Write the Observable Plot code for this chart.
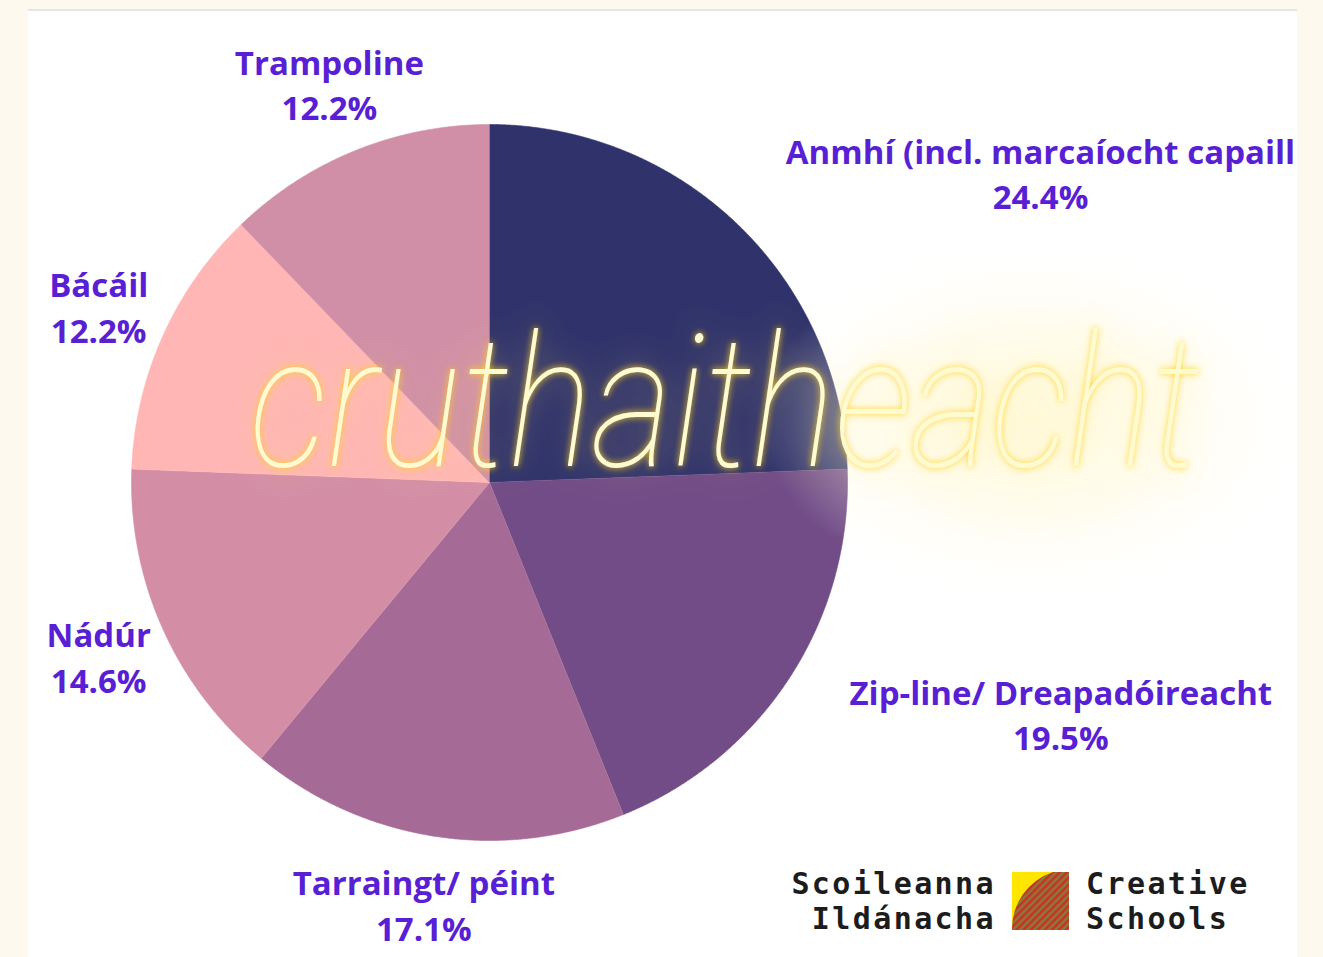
<!DOCTYPE html>
<html>
<head>
<meta charset="utf-8">
<script src="https://cdn.jsdelivr.net/npm/d3@7"></script>
<script src="https://cdn.jsdelivr.net/npm/@observablehq/plot@0.6"></script>
<style>
  html, body { margin: 0; padding: 0; background: #fdf9ee; width: 1323px; height: 957px; overflow: hidden; }
  #panel { position: absolute; left: 28px; top: 9px; width: 1269px; height: 948px; background: #fff; border-top: 2px solid #e4e4e4; }
  #chart { position: absolute; left: 0; top: 0; }
  #chart svg { background: transparent !important; overflow: visible; }
  .logo { position: absolute; font-family: "DejaVu Sans Mono", monospace; font-weight: bold; font-size: 30px; line-height: 30px; height: 30px; color: #1c1c1c; letter-spacing: 2.4px; white-space: nowrap; }
  #overlay { position: absolute; left: 0; top: 0; pointer-events: none; }
</style>
</head>
<body>
<div id="panel"></div>
<div id="chart"></div>
<svg id="overlay" width="1323" height="957"></svg>
<div class="logo" style="left:744px; top:869px; width:252px; text-align:right;">Scoileanna</div>
<div class="logo" style="left:744px; top:904px; width:252px; text-align:right;">Ildánacha</div>
<div class="logo" style="left:1086px; top:869px;">Creative</div>
<div class="logo" style="left:1086px; top:904px;">Schools</div>
<script>
// ---- data ----
const categories = ["Anmhí (incl. marcaíocht capaill", "Zip-line/ Dreapadóireacht", "Tarraingt/ péint", "Nádúr", "Bácáil", "Trampoline"];
const values = [24.4, 19.5, 17.1, 14.6, 12.2, 12.2];
const sliceColors = ["#30336b", "#714c87", "#a56b96", "#d38ea6", "#ffb6b5", "#d08fa6"];
const watermark = "cruthaitheacht";

// ---- layout (pie angles from values) ----
const rows = categories.map((name, i) => ({name, value: values[i], color: sliceColors[i]}));
const arcs = d3.pie().sort(null).value(d => d.value)(rows);

const wedgePoints = [];
for (const a of arcs) {
  const n = Math.max(2, Math.ceil((a.endAngle - a.startAngle) / (Math.PI / 720)));
  wedgePoints.push({name: a.data.name, color: a.data.color, x: 0, y: 0});
  for (let k = 0; k <= n; k++) {
    const t = a.startAngle + (a.endAngle - a.startAngle) * k / n;
    wedgePoints.push({name: a.data.name, color: a.data.color, x: Math.sin(t), y: Math.cos(t)});
  }
}

const labels = arcs.map(a => {
  const m = (a.startAngle + a.endAngle) / 2;
  return {name: a.data.name, text: `${a.data.name}\n${a.data.value.toFixed(1)}%`, x: 1.196 * Math.sin(m), y: 1.196 * Math.cos(m)};
});

const textStyle = {
  text: "text", fill: "#581fd5", fontFamily: "'Open Sans', sans-serif", fontWeight: "bold",
  fontSize: 33, lineHeight: 1.37, textAnchor: "middle"
};

const chart = Plot.plot({
  width: 1323, height: 957,
  marginLeft: 131, marginRight: 476, marginTop: 124, marginBottom: 117,
  x: {domain: [-1, 1], axis: null},
  y: {domain: [-1, 1], axis: null},
  color: {type: "identity"},
  style: {background: "transparent"},
  marks: [
    Plot.line(wedgePoints, {x: "x", y: "y", z: "name", fill: "color", stroke: "color", strokeWidth: 0.6, curve: "linear"}),
    Plot.text(labels.filter(d => d.name !== categories[0] && d.name !== categories[1]), {x: "x", y: "y", dy: -2, ...textStyle}),
    Plot.text(labels.filter(d => d.name === categories[0]), {x: "x", y: "y", dx: 254, dy: -2, ...textStyle}),
    Plot.text(labels.filter(d => d.name === categories[1]), {x: "x", y: "y", dx: 212, dy: -2, ...textStyle})
  ]
});
document.getElementById("chart").appendChild(chart);

// ---- decorative overlay: neon watermark + logo mark ----
const ov = d3.select("#overlay");
const defs = ov.append("defs");
const glow = defs.append("filter").attr("id", "glow").attr("x", "-20%").attr("y", "-50%").attr("width", "140%").attr("height", "200%");
glow.append("feGaussianBlur").attr("in", "SourceAlpha").attr("stdDeviation", 3).attr("result", "b1");
glow.append("feFlood").attr("flood-color", "#ffd200").attr("flood-opacity", 0.95).attr("result", "c1");
glow.append("feComposite").attr("in", "c1").attr("in2", "b1").attr("operator", "in").attr("result", "g1");
glow.append("feGaussianBlur").attr("in", "SourceAlpha").attr("stdDeviation", 14).attr("result", "b2");
glow.append("feFlood").attr("flood-color", "#ffe76a").attr("flood-opacity", 0.5).attr("result", "c2");
glow.append("feComposite").attr("in", "c2").attr("in2", "b2").attr("operator", "in").attr("result", "g2");
const mg = glow.append("feMerge");
mg.append("feMergeNode").attr("in", "g2");
mg.append("feMergeNode").attr("in", "g1");
mg.append("feMergeNode").attr("in", "SourceGraphic");

// soft haze on the right
const haze = defs.append("radialGradient").attr("id", "haze");
haze.append("stop").attr("offset", "0%").attr("stop-color", "#fff7cc").attr("stop-opacity", 0.75);
haze.append("stop").attr("offset", "55%").attr("stop-color", "#fff9dc").attr("stop-opacity", 0.45);
haze.append("stop").attr("offset", "100%").attr("stop-color", "#fffdf0").attr("stop-opacity", 0);
ov.append("ellipse").attr("cx", 1030).attr("cy", 420).attr("rx", 270).attr("ry", 175).attr("fill", "url(#haze)");

ov.append("g").attr("transform", "translate(0,466) scale(1,1.22) translate(0,-466)")
  .append("text")
  .attr("x", 250).attr("y", 466)
  .attr("textLength", 950).attr("lengthAdjust", "spacingAndGlyphs")
  .attr("font-family", "Roboto, 'Open Sans', sans-serif")
  .attr("font-weight", 100).attr("font-style", "italic").attr("font-size", 150)
  .attr("fill", "#fffbd0")
  .attr("filter", "url(#glow)")
  .text(watermark);

// logo square
const pat = defs.append("pattern").attr("id", "stripes").attr("patternUnits", "userSpaceOnUse")
  .attr("width", 5).attr("height", 5).attr("patternTransform", "rotate(45)");
pat.append("rect").attr("width", 5).attr("height", 5).attr("fill", "#8c7a34");
pat.append("rect").attr("width", 2.5).attr("height", 5).attr("fill", "#c8302c");
const lx = 1012, ly = 872, s = 57;
ov.append("rect").attr("x", lx).attr("y", ly).attr("width", s).attr("height", s + 1).attr("fill", "#ffe600");
ov.append("path")
  .attr("d", `M${lx},${ly + s + 1} A${s * 1.05},${s * 1.05} 0 0 1 ${lx + s * 0.72},${ly} L${lx + s},${ly} L${lx + s},${ly + s + 1} Z`)
  .attr("fill", "url(#stripes)");
</script>
</body>
</html>
